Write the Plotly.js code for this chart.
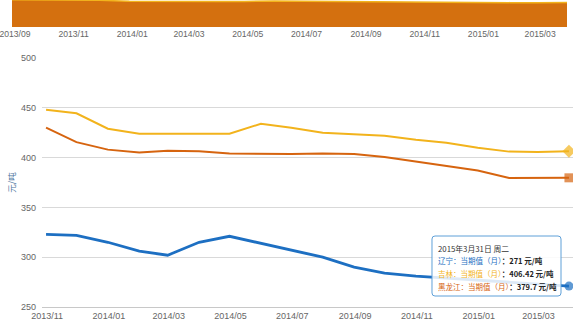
<!DOCTYPE html>
<html>
<head>
<meta charset="utf-8">
<script src="https://cdn.plot.ly/plotly-3.0.1.min.js"></script>
<style>html,body{margin:0;padding:0;background:#fff;}#chart{width:573px;height:327px;}</style>
</head>
<body>
<div id="chart"></div>
<script>
// ---- data ----
const dates = ['2013-10-31','2013-11-30','2013-12-31','2014-01-31','2014-02-28','2014-03-31','2014-04-30','2014-05-31','2014-06-30','2014-07-31','2014-08-31','2014-09-30','2014-10-31','2014-11-30','2014-12-31','2015-01-31','2015-02-28','2015-03-31'];
const liaoning = [323,322,315,306,302,315,321,314,307.5,300,290,284,281,279,277,275,273,271];
const jilin = [448,444.5,429,424,424,424,424,434,430,425,423.5,422,418,415,410,406,405.5,406.42];
const heilongjiang = [430,415.5,408,405,407,406.5,404,403.6,403.6,404,403.6,400.6,396,392,387,379.5,379.3,379.7];
const seriesNames = ['辽宁','吉林','黑龙江'];
const navDates = ['2013-08-31','2013-09-30'].concat(dates);
const navValues = [455,455].concat(jilin);
const tooltipDate = '2015年3月31日 周二';
const valueLabel = '当期值（月）';
const unit = '元/吨';

const colors = ['#1d6fc2','#f2b31c','#d6640f'];
const font = 'Liberation Sans Narrow, Liberation Sans, Arial, sans-serif';
const W = 573, H = 327, ML = 12, MR = 0, MT = 0, MB = 20;
const PW = W - ML - MR, PH = H - MT - MB;
const px = x => (x - ML) / PW;
const py = y => (PH - (y - MT)) / PH;

function lastSizes(n, s){ return Array.from({length:n},(_,i)=> i===n-1 ? s : 0); }
const symbols = ['circle','diamond','square'];
const sizes = [9,10,9];
const values = [liaoning, jilin, heilongjiang];

const traces = values.map((v,i)=>({
  x: dates, y: v, type:'scatter', mode:'lines+markers', name: seriesNames[i],
  line:{color:colors[i], width: i===0 ? 2.8 : 2},
  marker:{color:colors[i], size:lastSizes(v.length, sizes[i]), symbol:symbols[i], line:{width:0}},
  xaxis:'x', yaxis:'y', hoverinfo:'skip'
}));
traces.push({
  x: navDates, y: navValues, type:'scatter', mode:'lines', fill:'tozeroy',
  fillcolor:'#d4700f', line:{color:'#f2b31c', width:1.5},
  xaxis:'x2', yaxis:'y2', hoverinfo:'skip', showlegend:false
});

// tooltip
const bx0 = 432, bx1 = 561, by0 = 236, by1 = 296, r = 3;
const lineY = [248, 260, 273, 286];
const tfont = 'Noto Sans CJK SC';
const annotations = [{
  xref:'paper', yref:'paper', x:px(436), y:py(lineY[0]), xanchor:'left', yanchor:'middle',
  text: tooltipDate, showarrow:false, font:{family:tfont, size:7.8, color:'#333'}
}];
values.forEach((v,i)=>{
  annotations.push({
    xref:'paper', yref:'paper', x:px(436), y:py(lineY[i+1]), xanchor:'left', yanchor:'middle', showarrow:false,
    font:{family:tfont, size:7.5, color:'#222'},
    text:'<span style="color:'+colors[i]+'">'+seriesNames[i]+'：'+valueLabel+'</span><b>：'+v[v.length-1]+' '+unit+'</b>'
  });
});
const X = p => px(p).toFixed(5), Y = p => py(p).toFixed(5);
const boxPath = 'M'+X(bx0+r)+','+Y(by0)+' L'+X(bx1-r)+','+Y(by0)+' Q'+X(bx1)+','+Y(by0)+' '+X(bx1)+','+Y(by0+r)+
  ' L'+X(bx1)+','+Y(by1-r)+' Q'+X(bx1)+','+Y(by1)+' '+X(bx1-r)+','+Y(by1)+
  ' L'+X(bx0+r)+','+Y(by1)+' Q'+X(bx0)+','+Y(by1)+' '+X(bx0)+','+Y(by1-r)+
  ' L'+X(bx0)+','+Y(by0+r)+' Q'+X(bx0)+','+Y(by0)+' '+X(bx0+r)+','+Y(by0)+' Z';

const layout = {
  width:W, height:H, margin:{l:ML, r:MR, t:MT, b:MB},
  paper_bgcolor:'#fff', plot_bgcolor:'rgba(0,0,0,0)', showlegend:false,
  xaxis:{domain:[px(42),1], range:['2013-10-27','2015-04-04'], type:'date', anchor:'y',
    tickformat:'%Y/%m', dtick:'M2', tick0:'2013-11-01', showgrid:false, zeroline:false,
    showline:true, linecolor:'#c8c8c8', linewidth:1, ticks:'', ticklabeloverflow:'allow',
    tickfont:{family:font, size:9, color:'#666'}},
  yaxis:{domain:[0, py(58)], range:[250,500], dtick:50, tick0:250, anchor:'x',
    showgrid:true, gridcolor:'#d9d9d9', gridwidth:1, zeroline:false, showline:false, ticks:'',
    ticklabelstandoff:5, tickfont:{family:font, size:9, color:'#666'},
    title:{text:unit, font:{family:tfont, size:8.5, color:'#4d759e'}}},
  xaxis2:{domain:[0, px(567)], range:['2013-08-31','2015-03-31'], type:'date', anchor:'y2',
    tickformat:'%Y/%m', dtick:'M2', tick0:'2013-09-01', showgrid:false, zeroline:false,
    showline:false, ticks:'', ticklabeloverflow:'allow', ticklabelshift:2,
    tickfont:{family:font, size:8.6, color:'#666'}},
  yaxis2:{domain:[py(27),1], range:[0,450], anchor:'x2', showgrid:false, zeroline:false,
    showticklabels:false, showline:false, ticks:''},
  shapes:[{type:'path', path:boxPath, xref:'paper', yref:'paper',
    line:{color:'#5fa0d8', width:1}, fillcolor:'rgba(255,255,255,0.85)', layer:'above'}],
  annotations: annotations
};
Plotly.newPlot('chart', traces, layout, {staticPlot:true, displayModeBar:false});
</script>
</body>
</html>
